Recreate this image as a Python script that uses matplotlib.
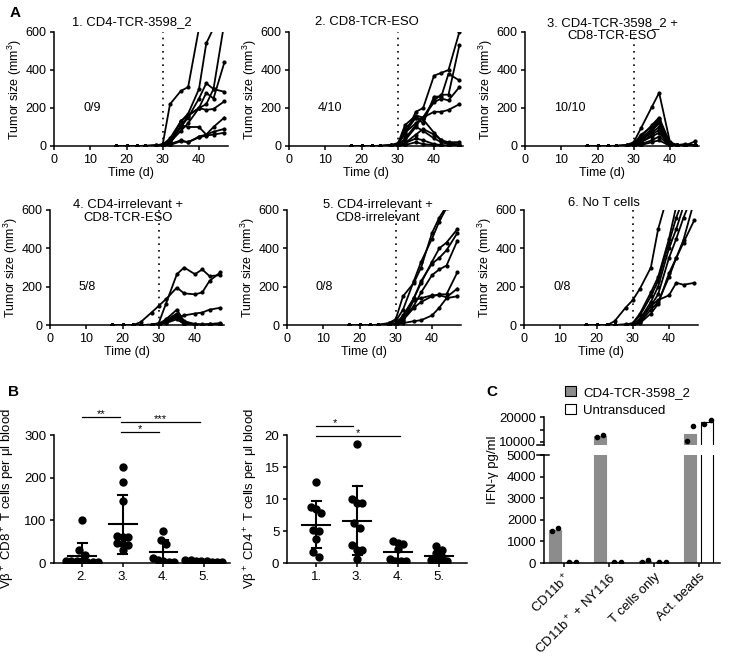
import numpy as np
import matplotlib
matplotlib.use("Agg")
from matplotlib import pyplot as plt
from matplotlib.patches import Patch

plt.rcParams['font.family'] = ['Liberation Sans', 'DejaVu Sans']
plt.rcParams['mathtext.fontset'] = 'custom'
plt.rcParams['mathtext.rm'] = 'Liberation Sans'
plt.rcParams['mathtext.it'] = 'Liberation Sans:italic'
plt.rcParams['font.size'] = 9
plt.rcParams['axes.linewidth'] = 1.1
plt.rcParams['xtick.major.width'] = 1.1
plt.rcParams['ytick.major.width'] = 1.1
plt.rcParams['xtick.major.size'] = 3
plt.rcParams['ytick.major.size'] = 3
plt.rcParams['xtick.major.pad'] = 2.5
plt.rcParams['ytick.major.pad'] = 2.5

nan = np.nan

# ---- panel A: tumor growth per mouse ----
days = [17, 20, 23, 25, 28, 30, 32, 35, 37, 40, 42, 44, 47]

grp1 = [
    [0, 0, 0, 1, 3, 10, 220, 290, 310, 620, nan, nan, nan],
    [0, 0, 0, 1, 3, 8, 40, 130, 170, 300, 540, 620, nan],
    [0, 0, 0, 0, 2, 5, 30, 100, 150, 250, 330, 300, 650],
    [0, 0, 0, 0, 2, 5, 20, 80, 120, 200, 280, 250, 440],
    [0, 0, 0, 0, 1, 4, 20, 130, 160, 200, 220, 300, 285],
    [0, 0, 0, 0, 1, 3, 15, 100, 160, 200, 190, 195, 235],
    [0, 0, 0, 0, 1, 3, 10, 110, 100, 100, 60, 100, 150],
    [0, 0, 0, 0, 0, 2, 10, 30, 20, 50, 60, 75, 90],
    [0, 0, 0, 0, 0, 1, 5, 25, 20, 45, 55, 60, 70],
]
grp2 = [
    [0, 0, 0, 1, 5, 15, 60, 180, 200, 370, 385, 400, 600],
    [0, 0, 0, 1, 4, 10, 110, 160, 150, 240, 270, 270, 530],
    [0, 0, 0, 0, 3, 5, 90, 150, 120, 260, 260, 380, 345],
    [0, 0, 0, 0, 2, 5, 70, 120, 150, 230, 250, 240, 310],
    [0, 0, 0, 0, 1, 0, 40, 110, 150, 180, 180, 190, 220],
    [0, 0, 0, 0, 2, 10, 70, 150, 140, 70, 30, 20, 20],
    [0, 0, 0, 0, 1, 5, 30, 100, 80, 40, 20, 10, 10],
    [0, 0, 0, 0, 0, 0, 15, 60, 90, 60, 30, 15, 5],
    [0, 0, 0, 0, 0, 0, 15, 40, 30, 10, 5, 3, 0],
    [0, 0, 0, 0, 0, 0, 5, 20, 10, 5, 0, 0, 0],
]
grp3 = [
    [0, 0, 0, 1, 5, 20, 94, 206, 280, 20, 5, 10, 5],
    [0, 0, 0, 1, 3, 10, 50, 110, 150, 15, 5, 5, 3],
    [0, 0, 0, 0, 3, 10, 60, 100, 140, 10, 3, 5, 5],
    [0, 0, 0, 0, 2, 8, 40, 90, 130, 10, 5, 5, 5],
    [0, 0, 0, 0, 2, 5, 30, 80, 120, 5, 3, 5, 5],
    [0, 0, 0, 0, 1, 5, 30, 70, 100, 5, 2, 2, 3],
    [0, 0, 0, 0, 1, 5, 20, 60, 85, 3, 2, 2, 2],
    [0, 0, 0, 0, 1, 3, 20, 50, 70, 2, 1, 1, 25],
    [0, 0, 0, 0, 0, 2, 10, 30, 50, 1, 1, 1, 1],
    [0, 0, 0, 0, 0, 1, 5, 20, 30, 0, 0, 0, 0],
]
grp4 = [
    [0, 0, 0, 15, 65, 100, 135, 195, 165, 160, 170, 230, 275],
    [0, 0, 0, 0, 2, 10, 112, 265, 300, 265, 290, 255, 260],
    [0, 0, 0, 0, 1, 5, 15, 40, 50, 60, 65, 80, 90],
    [0, 0, 0, 0, 1, 5, 30, 80, 20, 5, 3, 5, 10],
    [0, 0, 0, 0, 1, 4, 25, 60, 15, 3, 2, 3, 5],
    [0, 0, 0, 0, 0, 3, 20, 50, 10, 2, 1, 2, 3],
    [0, 0, 0, 0, 0, 2, 15, 40, 5, 1, 0, 1, 2],
    [0, 0, 0, 0, 0, 2, 10, 30, 5, 0, 0, 0, 0],
]
grp5 = [
    [0, 0, 0, 1, 10, 30, 150, 220, 300, 480, 560, 620, nan],
    [0, 0, 0, 1, 5, 20, 80, 230, 330, 450, 540, 610, nan],
    [0, 0, 0, 0, 3, 5, 50, 140, 220, 330, 400, 430, 500],
    [0, 0, 0, 0, 2, 3, 40, 140, 230, 320, 350, 390, 480],
    [0, 0, 0, 0, 1, 2, 30, 100, 170, 260, 290, 310, 440],
    [0, 0, 0, 0, 1, 2, 25, 90, 120, 150, 160, 160, 275],
    [0, 0, 0, 0, 1, 1, 20, 130, 140, 155, 155, 145, 190],
    [0, 0, 0, 0, 0, 1, 10, 20, 25, 50, 90, 140, 150],
]
grp6 = [
    [0, 0, 0, 20, 90, 130, 190, 300, 500, 700, nan, nan, nan],
    [0, 0, 0, 0, 3, 10, 60, 170, 250, 450, 620, nan, nan],
    [0, 0, 0, 0, 2, 5, 50, 150, 230, 430, 560, 660, nan],
    [0, 0, 0, 0, 1, 2, 30, 120, 200, 400, 500, 620, nan],
    [0, 0, 0, 0, 1, 1, 25, 100, 160, 350, 450, 560, 700],
    [0, 0, 0, 0, 0, 1, 15, 80, 120, 250, 350, 445, 650],
    [0, 0, 0, 0, 0, 1, 20, 100, 130, 155, 220, 210, 220],
    [0, 0, 0, 0, 0, 0, 10, 60, 110, 270, 350, 430, 548],
]
a_titles = ["1. CD4-TCR-3598_2", "2. CD8-TCR-ESO", "3. CD4-TCR-3598_2 +\nCD8-TCR-ESO",
            "4. CD4-irrelevant +\nCD8-TCR-ESO", "5. CD4-irrelevant +\nCD8-irrelevant", "6. No T cells"]
a_scores = ["0/9", "4/10", "10/10", "5/8", "0/8", "0/8"]

# ---- panel B: blood counts ----
cd8_groups = ["2.", "3.", "4.", "5."]
cd8_counts = [
    [100, 30, 18, 5, 5, 5, 4, 3, 2, 2],
    [224, 191, 145, 64, 62, 60, 48, 44, 43, 31],
    [75, 55, 45, 12, 8, 5, 3, 2],
    [8, 6, 5, 4, 4, 3, 3, 2],
]
cd4_groups = ["1.", "3.", "4.", "5."]
cd4_counts = [
    [12.6, 8.5, 8.7, 7.8, 5.1, 5.0, 3.8, 1.7, 0.9],
    [18.6, 10.0, 9.3, 9.3, 6.2, 5.4, 2.8, 2.1, 2.1, 0.6],
    [3.5, 3.2, 2.9, 2.2, 0.6, 0.3, 0.3, 0.3],
    [2.7, 2.0, 1.5, 0.9, 0.5, 0.4, 0.3, 0.3],
]

# ---- panel C: IFN-gamma ----
c_conditions = ["CD11b$^+$", "CD11b$^+$ + NY116", "T cells only", "Act. beads"]
c_tcr = [[1500, 1600], [12000, 13000], [50, 150], [10400, 16400]]
c_untr = [[50, 60], [50, 60], [30, 40], [17200, 19000]]

W, H = 756, 658
fig = plt.figure(figsize=(7.56, 6.58), dpi=100)


def box(l, t, r, b):
    return [l / W, 1 - b / H, (r - l) / W, (b - t) / H]


def clean(ax):
    ax.spines['top'].set_visible(False)
    ax.spines['right'].set_visible(False)


a_boxes = [box(54, 32, 228, 146), box(289, 32, 463, 146), box(525, 32, 699, 146),
           box(50, 210, 224, 325), box(287, 210, 461, 325), box(524, 210, 698, 325)]
a_title_x = [0.45, 0.45, 0.50, 0.45, 0.52, 0.46]
a_title_y = [1.09, 1.09, 1.02, 0.99, 0.99, 1.065]
groups = [grp1, grp2, grp3, grp4, grp5, grp6]

for i in range(6):
    ax = fig.add_axes(a_boxes[i])
    clean(ax)
    for m in groups[i]:
        ax.plot(days, m, color='k', lw=1.3, marker='o', ms=2)
    ax.plot([30, 30], [0, 600], color='k', lw=1.2, ls=(0, (1, 3)))
    ax.set_xlim(0, 48)
    ax.set_ylim(0, 600)
    ax.set_xticks([0, 10, 20, 30, 40])
    ax.set_yticks([0, 200, 400, 600])
    ax.set_xlabel("Time (d)", labelpad=1, x=0.44)
    ax.set_ylabel("Tumor size (mm$^3$)", labelpad=1)
    ax.text(8, 200, a_scores[i], ha='left', va='center')
    ax.text(a_title_x[i], a_title_y[i], a_titles[i], transform=ax.transAxes,
            ha='center', va='center', linespacing=1.1, fontsize=9.4)


def swarm(vals, dy, dx):
    v = np.sort(np.asarray(vals, float))[::-1]
    xs = np.zeros(len(v))
    start = 0
    for i in range(1, len(v) + 1):
        if i == len(v) or v[start] - v[i] > dy:
            k = i - start
            xs[start:i] = (np.arange(k) - (k - 1) / 2) * dx
            start = i
    return v, xs


def dotplot(ax, data, names, dy):
    for j, vals in enumerate(data):
        pos = j + 1
        v, xs = swarm(vals, dy, 0.13)
        ax.plot(pos + xs, v, 'o', color='k', ms=5, mec='k')
        mu = np.mean(vals)
        sd = np.std(vals, ddof=1)
        ax.plot([pos - 0.34, pos + 0.34], [mu, mu], color='k', lw=1.5)
        ax.plot([pos, pos], [mu - sd, mu + sd], color='k', lw=1.5)
        ax.plot([pos - 0.11, pos + 0.11], [mu + sd, mu + sd], color='k', lw=1.5)
        ax.plot([pos - 0.11, pos + 0.11], [mu - sd, mu - sd], color='k', lw=1.5)
    ax.set_xticks(range(1, len(names) + 1))
    ax.set_xticklabels(names)
    ax.tick_params(labelsize=9.5)
    clean(ax)


def sig(ax, x0, x1, y, txt, h):
    ax.plot([x0, x1], [y, y], color='k', lw=0.9, clip_on=False)
    ax.text((x0 + x1) / 2, y + h, txt, ha='center', va='center', fontsize=8)


axb1 = fig.add_axes(box(54, 435, 230, 563))
dotplot(axb1, cd8_counts, cd8_groups, 12)
axb1.set_xlim(0.31, 4.64)
axb1.set_ylim(0, 300)
axb1.set_yticks([0, 100, 200, 300])
axb1.set_ylabel("Vβ$^+$ CD8$^+$ T cells per μl blood", labelpad=5, fontsize=9.5)
sig(axb1, 0.99, 1.93, 342, "**", 8)
sig(axb1, 1.97, 3.9, 330, "***", 8)
sig(axb1, 1.97, 2.9, 307, "*", 8)

axb2 = fig.add_axes(box(287, 435, 467, 563))
dotplot(axb2, cd4_counts, cd4_groups, 0.9)
axb2.set_xlim(0.29, 4.68)
axb2.set_ylim(0, 20)
axb2.set_yticks([0, 5, 10, 15, 20])
axb2.set_ylabel("Vβ$^+$ CD4$^+$ T cells per μl blood", labelpad=3, fontsize=9.5)
sig(axb2, 1.0, 1.9, 21.4, "*", 0.5)
sig(axb2, 1.0, 3.05, 19.8, "*", 0.5)

# ---- panel C with broken axis ----
axc = fig.add_axes(box(544, 455, 720, 563))
axt = fig.add_axes(box(544, 417, 720, 444.5))
x = np.arange(len(c_conditions))
tcr_mean = [np.mean(v) for v in c_tcr]
untr_mean = [np.mean(v) for v in c_untr]
for ax in (axc, axt):
    ax.bar(x - 0.19, tcr_mean, 0.27, color='#8c8c8c', edgecolor='#8c8c8c', lw=0.8)
    ax.bar(x + 0.19, untr_mean, 0.27, color='white', edgecolor='k', lw=0.8)
    for j in range(len(x)):
        ax.plot([x[j] - 0.26, x[j] - 0.12], c_tcr[j], 'o', color='k', ms=3)
        ax.plot([x[j] + 0.12, x[j] + 0.26], c_untr[j], 'o', color='k', ms=3)
    ax.set_xlim(-0.44, 3.47)
    ax.tick_params(labelsize=9.5)
    clean(ax)
axc.set_ylim(0, 5000)
axc.set_yticks([0, 1000, 2000, 3000, 4000, 5000])
axc.set_xticks(x)
axc.set_xticklabels(c_conditions, rotation=45, ha='right', rotation_mode='anchor')
axc.plot([-0.04, 0.03], [1, 1], color='k', lw=1.1, transform=axc.transAxes, clip_on=False)
axt.set_ylim(9000, 20000)
axt.set_yticks([10000, 20000])
axt.set_yticks([15000], minor=True)
axt.tick_params(axis='y', which='minor', length=3, width=1.1)
axt.spines['bottom'].set_visible(False)
axt.set_xticks([])
axt.plot([-0.04, 0.0], [0.0, 0.0], color='k', lw=1.1, transform=axt.transAxes, clip_on=False)
fig.text(493 / W, 1 - 470 / H, "IFN-γ pg/ml", rotation=90, ha='center', va='center',
         fontsize=9.5)

handles = [Patch(facecolor='#8c8c8c', edgecolor='k', lw=0.8),
           Patch(facecolor='white', edgecolor='k', lw=0.8)]
fig.legend(handles, ["CD4-TCR-3598_2", "Untransduced"], loc='upper left',
           bbox_to_anchor=(565 / W, 1 - 386 / H), frameon=False,
           handlelength=0.8, handleheight=0.8, handletextpad=0.6,
           labelspacing=0.4, borderaxespad=0, borderpad=0, fontsize=9.5)

for lab, px, py in [("A", 10, 13), ("B", 8, 392), ("C", 486, 392)]:
    fig.text(px / W, 1 - py / H, lab, fontsize=11, fontweight='bold', va='center')

fig.savefig("out.png", dpi=100)
